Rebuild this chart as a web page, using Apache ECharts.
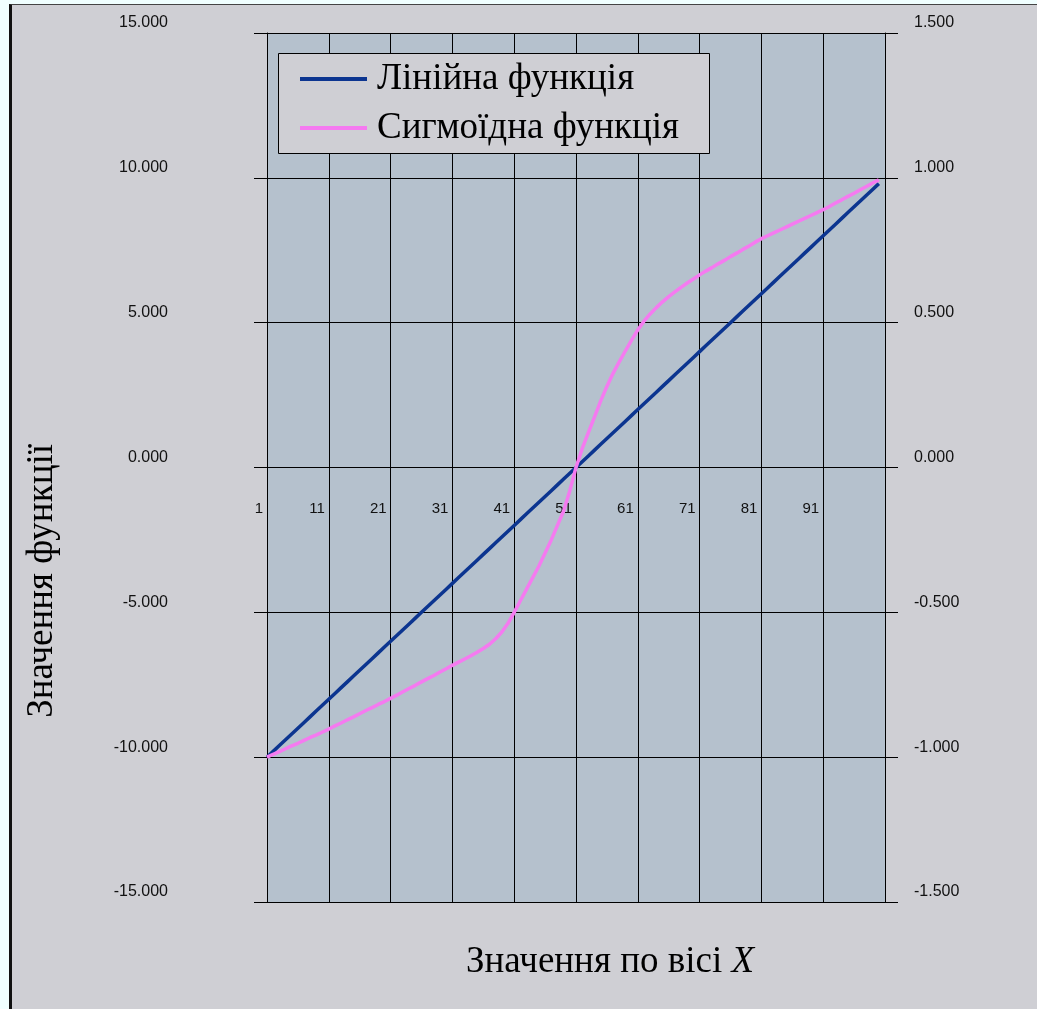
<!DOCTYPE html>
<html>
<head>
<meta charset="utf-8">
<script src="https://cdn.jsdelivr.net/npm/echarts@6/dist/echarts.min.js"></script>
<style>
html,body{margin:0;padding:0;background:#f0ffff;width:1037px;height:1009px;overflow:hidden}
#bg{position:absolute;left:9px;top:4px;width:1028px;height:1005px;background:#cfcfd4;border-left:3px solid #111;border-top:1px solid #444;box-sizing:border-box}
#chart{position:absolute;left:0;top:0;width:1037px;height:1009px}
</style>
</head>
<body>
<div id="bg"></div>
<div id="chart"></div>
<script>
const categories = [1,2,3,4,5,6,7,8,9,10,11,12,13,14,15,16,17,18,19,20,21,22,23,24,25,26,27,28,29,30,31,32,33,34,35,36,37,38,39,40,41,42,43,44,45,46,47,48,49,50,51,52,53,54,55,56,57,58,59,60,61,62,63,64,65,66,67,68,69,70,71,72,73,74,75,76,77,78,79,80,81,82,83,84,85,86,87,88,89,90,91,92,93,94,95,96,97,98,99,100,101];
const seriesNames = ['Лінійна функція', 'Сигмоїдна функція'];
const linearValues = [-10.0,-9.8,-9.6,-9.4,-9.2,-9.0,-8.8,-8.6,-8.4,-8.2,-8.0,-7.8,-7.6,-7.4,-7.2,-7.0,-6.8,-6.6,-6.4,-6.2,-6.0,-5.8,-5.6,-5.4,-5.2,-5.0,-4.8,-4.6,-4.4,-4.2,-4.0,-3.8,-3.6,-3.4,-3.2,-3.0,-2.8,-2.6,-2.4,-2.2,-2.0,-1.8,-1.6,-1.4,-1.2,-1.0,-0.8,-0.6,-0.4,-0.2,0.0,0.2,0.4,0.6,0.8,1.0,1.2,1.4,1.6,1.8,2.0,2.2,2.4,2.6,2.8,3.0,3.2,3.4,3.6,3.8,4.0,4.2,4.4,4.6,4.8,5.0,5.2,5.4,5.6,5.8,6.0,6.2,6.4,6.6,6.8,7.0,7.2,7.4,7.6,7.8,8.0,8.2,8.4,8.6,8.8,9.0,9.2,9.4,9.6,9.8];
const sigmoidValues = [-1.000,-0.990,-0.981,-0.971,-0.961,-0.952,-0.942,-0.932,-0.923,-0.913,-0.903,-0.892,-0.882,-0.871,-0.861,-0.850,-0.839,-0.829,-0.818,-0.808,-0.797,-0.786,-0.774,-0.763,-0.752,-0.740,-0.729,-0.718,-0.706,-0.695,-0.683,-0.672,-0.661,-0.650,-0.638,-0.625,-0.610,-0.591,-0.568,-0.538,-0.500,-0.460,-0.420,-0.380,-0.340,-0.295,-0.250,-0.200,-0.150,-0.080,0.000,0.065,0.120,0.175,0.230,0.280,0.325,0.365,0.403,0.440,0.475,0.505,0.530,0.552,0.572,0.590,0.606,0.622,0.637,0.651,0.665,0.678,0.690,0.703,0.715,0.728,0.740,0.753,0.765,0.778,0.790,0.800,0.810,0.820,0.830,0.840,0.850,0.860,0.870,0.880,0.890,0.901,0.913,0.924,0.936,0.947,0.959,0.970,0.982,0.993];
const leftTicks = {min:-15, max:15, interval:5};
const rightTicks = {min:-1.5, max:1.5, interval:0.5};
const yTitle = 'Значення функції';
const xTitleMain = 'Значення по вісі ';
const xTitleVar = 'X';

const chart = echarts.init(document.getElementById('chart'), null, {renderer:'canvas'});
const serif = '"Liberation Serif", "Times New Roman", serif';
const sans = '"Liberation Sans", Arial, sans-serif';
const yLabel = {color:'#111', fontFamily:sans, fontSize:16, lineHeight:20, formatter:(v)=>v.toFixed(3) + '\n '};
chart.setOption({
  animation:false,
  backgroundColor:'transparent',
  grid:{left:267, right:152, top:33, bottom:107, show:true, backgroundColor:'#b5c1cd', borderWidth:0},
  xAxis:{
    type:'category', data:categories, boundaryGap:false, position:'bottom', offset:-434.5,
    axisLine:{onZero:false, lineStyle:{color:'#000', width:1}},
    axisTick:{show:false},
    splitLine:{show:true, interval:(i)=>i%10===0, lineStyle:{color:'#000', width:1}},
    axisLabel:{interval:(i)=>i%10===0 && i<100, align:'right', padding:[0,4,0,0], margin:34, color:'#111', fontFamily:sans, fontSize:15}
  },
  yAxis:[
    {type:'value', min:leftTicks.min, max:leftTicks.max, interval:leftTicks.interval, position:'left',
     axisLine:{show:true, onZero:false, lineStyle:{color:'#000'}},
     axisTick:{show:true, length:13, lineStyle:{color:'#000'}},
     splitLine:{show:true, lineStyle:{color:'#000', width:1}},
     axisLabel:Object.assign({margin:99}, yLabel)
    },
    {type:'value', min:rightTicks.min, max:rightTicks.max, interval:rightTicks.interval, position:'right',
     axisLine:{show:true, onZero:false, lineStyle:{color:'#000'}},
     axisTick:{show:true, length:13, lineStyle:{color:'#000'}},
     splitLine:{show:false},
     axisLabel:Object.assign({margin:29}, yLabel)
    }
  ],
  legend:{
    orient:'vertical', left:300, top:60, itemWidth:67, itemHeight:4, itemGap:11,
    padding:0, icon:'rect', z:10,
    textStyle:{fontFamily:serif, fontSize:37, lineHeight:38, color:'#000', padding:[0,0,0,5]},
    data:seriesNames
  },
  graphic:[
    {type:'rect', left:278, top:53, z:5, shape:{width:431, height:100}, style:{fill:'#cfcfd4', stroke:'#000', lineWidth:1}},
    {type:'text', left:24, top:444, rotation:Math.PI/2, style:{text:yTitle, font:'37px ' + serif, fill:'#000'}},
    {type:'text', left:466, top:944, style:{rich:{a:{fontFamily:serif, fontSize:37, color:'#000'}, i:{fontFamily:serif, fontSize:37, fontStyle:'italic', color:'#000'}}, text:'{a|' + xTitleMain + '}{i|' + xTitleVar + '}'}}
  ],
  series:[
    {name:seriesNames[0], type:'line', yAxisIndex:0, data:linearValues, symbol:'none', lineStyle:{color:'#0c3590', width:3.5}, itemStyle:{color:'#0c3590'}, z:3},
    {name:seriesNames[1], type:'line', yAxisIndex:1, data:sigmoidValues, symbol:'none', lineStyle:{color:'#f57af0', width:3.5}, itemStyle:{color:'#f57af0'}, z:4}
  ]
});
</script>
</body>
</html>
